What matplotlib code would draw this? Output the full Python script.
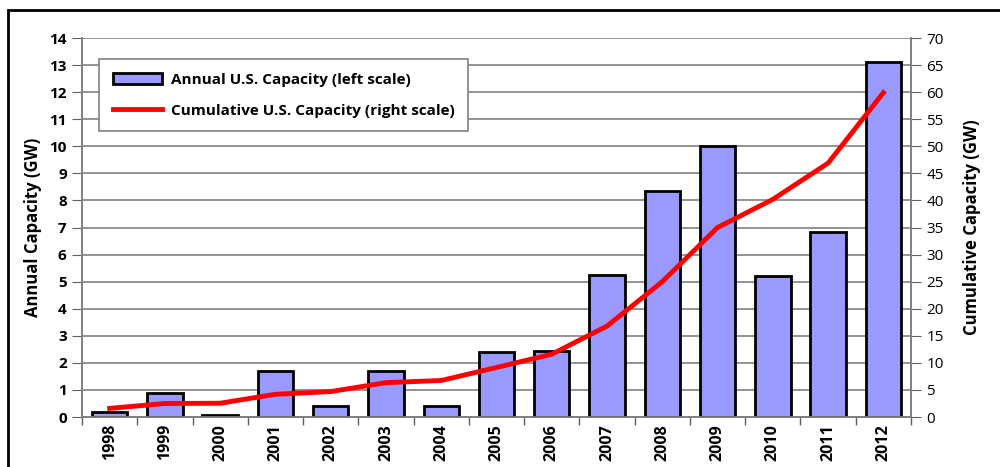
import matplotlib.pyplot as plt
from matplotlib.patches import Rectangle
from matplotlib.ticker import MultipleLocator, FixedLocator

plt.rcParams['font.family'] = ['Open Sans', 'DejaVu Sans']

years = ['1998', '1999', '2000', '2001', '2002', '2003', '2004', '2005',
         '2006', '2007', '2008', '2009', '2010', '2011', '2012']
annual = [0.2, 0.9, 0.07, 1.7, 0.4, 1.7, 0.4, 2.4, 2.45, 5.25, 8.35, 10.0, 5.22, 6.82, 13.1]
cumulative = [1.6, 2.5, 2.55, 4.2, 4.7, 6.35, 6.75, 9.15, 11.6, 16.8, 25.0, 35.0, 40.2, 46.9, 59.9]

fig = plt.figure(figsize=(10, 4.67), dpi=100)
# outer frame
fig.patches.append(Rectangle((0.008, -0.05), 1.2, 0.95 + 0.05 + 0.028, transform=fig.transFigure,
                             fill=False, edgecolor='black', linewidth=2))

ax = fig.add_axes([0.082, 0.107, 0.829, 0.8116])
x = list(range(len(years)))

ax.bar(x, annual, width=0.64, color='#9999ff', edgecolor='black', linewidth=2,
       label='Annual U.S. Capacity (left scale)', zorder=3)
ax.set_xlim(-0.5, len(years) - 0.5)
ax.set_ylim(0, 14)
ax.yaxis.set_major_locator(MultipleLocator(1))
ax.grid(axis='y', color='#808080', linewidth=1.2, zorder=0)
ax.set_axisbelow(True)

ax.set_xticks(x)
ax.set_xticklabels(years, rotation=90, fontweight='bold', fontsize=11.5)
ax.tick_params(axis='x', which='major', length=0, pad=5)
ax.xaxis.set_minor_locator(FixedLocator([i - 0.5 for i in range(len(years) + 1)]))
ax.tick_params(axis='x', which='minor', length=6, color='#606060', width=1)
ax.tick_params(axis='y', length=7, color='#606060', labelsize=11, pad=4)
for t in ax.get_yticklabels():
    t.set_fontweight('bold')
ax.set_ylabel('Annual Capacity (GW)', fontsize=12, fontweight='bold', labelpad=5)

ax.spines['top'].set_visible(False)
for s in ['left', 'right', 'bottom']:
    ax.spines[s].set_color('#808080')
    ax.spines[s].set_linewidth(1.2)

ax2 = ax.twinx()
ax2.plot(x, cumulative, color='#ff0000', linewidth=3.5,
         label='Cumulative U.S. Capacity (right scale)', zorder=4)
ax2.set_ylim(0, 70)
ax2.yaxis.set_major_locator(MultipleLocator(5))
ax2.tick_params(axis='y', length=7, color='#606060', labelsize=11, pad=4)
ax2.set_ylabel('Cumulative Capacity (GW)', fontsize=12, fontweight='bold', labelpad=14)
ax2.spines['top'].set_visible(False)
for s in ['left', 'right', 'bottom']:
    ax2.spines[s].set_color('#808080')
    ax2.spines[s].set_linewidth(1.2)

h1, l1 = ax.get_legend_handles_labels()
h2, l2 = ax2.get_legend_handles_labels()
leg = ax2.legend(h1 + h2, l1 + l2, loc='upper left', bbox_to_anchor=(0.0205, 0.9446),
                 fancybox=False, framealpha=1, edgecolor='#808080',
                 prop={'weight': 'bold', 'size': 11}, handlelength=3.2,
                 labelspacing=1.1, borderpad=0.9, handletextpad=0.6, borderaxespad=0)
leg.get_frame().set_linewidth(1.2)

fig.savefig('out.png', dpi=100)
